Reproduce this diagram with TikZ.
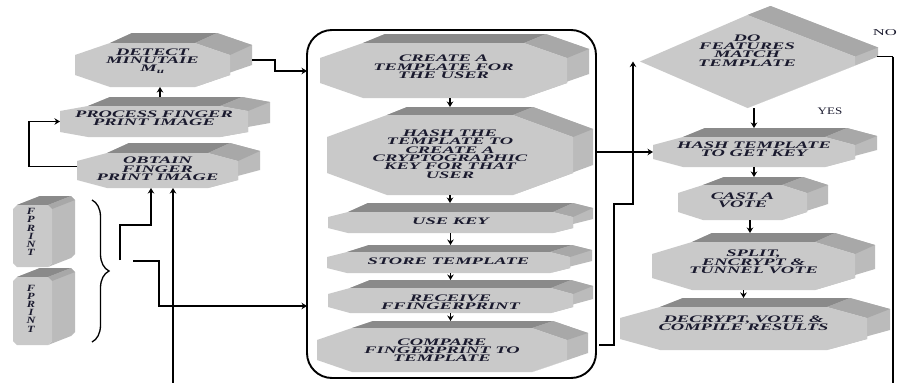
\documentclass[tikz,border=0pt]{standalone}
\usepackage{fontspec}
\newfontfamily\ff[FakeStretch=1.85]{Liberation Serif}
\newfontfamily\fpf[FakeStretch=1.3]{Liberation Serif}
\usetikzlibrary{calc,backgrounds,arrows.meta,decorations.pathreplacing}
\definecolor{frontc}{HTML}{C9C9C9}
\definecolor{topc}{HTML}{8A8A8A}
\definecolor{slantc}{HTML}{A8A8A8}
\definecolor{sidec}{HTML}{BBBBBB}
\definecolor{inkc}{HTML}{1A1A2E}
\tikzset{
  bx/.style 2 args={rectangle,inner sep=0pt,outer sep=0pt,minimum width=#1pt,minimum height=#2pt},
  tx/.style={align=center,inner sep=0pt,text=inkc,font=\ff\bfseries\itshape\fontsize{10}{8.3}\selectfont},
  lab/.style={inner sep=0pt,text=inkc,font=\fpf\fontsize{10}{10}\selectfont},
  arr/.style={line width=1.8pt,-{Stealth[length=5.5pt,width=6.5pt]}},
  ln/.style={line width=1.6pt}
}
% #1 node, #2 horizontal cut, #3 vertical cut, #4 dx, #5 dy (up)
\newcommand\prism[5]{%
  \begin{scope}[on background layer]
    \path let \p1=(#1.north west), \p2=(#1.south east) in
      (\x1+#2pt,\y1) coordinate (#1-1)
      (\x2-#2pt,\y1) coordinate (#1-2)
      (\x2,\y1-#3pt) coordinate (#1-3)
      (\x2,\y2+#3pt) coordinate (#1-4)
      (\x2-#2pt,\y2) coordinate (#1-5)
      (\x1+#2pt,\y2) coordinate (#1-6)
      (\x1,\y2+#3pt) coordinate (#1-7)
      (\x1,\y1-#3pt) coordinate (#1-8);
    \coordinate (#1-t) at ($(#1.north)+(0pt,#5pt)$);
    \fill[sidec] (#1-1) -- ($(#1-1)+(#4pt,#5pt)$) -- ($(#1-2)+(#4pt,#5pt)$)
      -- ($(#1-3)+(#4pt,#5pt)$) -- ($(#1-4)+(#4pt,#5pt)$) -- ($(#1-5)+(#4pt,#5pt)$)
      -- (#1-5) -- (#1-4) -- (#1-3) -- (#1-2) -- cycle;
    \fill[topc] (#1-1) -- (#1-2) -- ($(#1-2)+(#4pt,#5pt)$) -- ($(#1-1)+(#4pt,#5pt)$) -- cycle;
    \fill[slantc] (#1-2) -- (#1-3) -- ($(#1-3)+(#4pt,#5pt)$) -- ($(#1-2)+(#4pt,#5pt)$) -- cycle;
    \fill[frontc] (#1-1) -- (#1-2) -- (#1-3) -- (#1-4) -- (#1-5) -- (#1-6) -- (#1-7) -- (#1-8) -- cycle;
  \end{scope}}
\begin{document}
\begin{tikzpicture}[x=1pt,y=-1pt]
\useasboundingbox (0,0) rectangle (898,383);

% big rounded frame
\begin{scope}[on background layer]
\fill[white] (0,0) rectangle (898,383);
\node[draw,line width=1.9pt,rounded corners=25pt,bx={289}{348}] (big) at (451.5,204) {};
\end{scope}

% left column
\node[bx={155}{44}] (det) at (152.5,65) {};
\prism{det}{35}{12}{22}{10}
\node[tx] (detT) at (152.5,61) {DETECT\\MINUTAIE\\M\textsubscript{u}};
\node[bx={188}{31}] (proc) at (154,121.5) {};
\prism{proc}{28}{5}{22}{9}
\node[tx] (procT) at (154,118) {PROCESS FINGER\\PRINT IMAGE};
\node[bx={161}{35}] (obt) at (157.5,170.5) {};
\prism{obt}{30}{8}{22}{10}
\node[tx] (obtT) at (157.5,169) {OBTAIN\\FINGER\\PRINT IMAGE};

% fprint boxes
\tikzset{fptx/.style={align=center,inner sep=0pt,text=inkc,font=\fpf\bfseries\itshape\fontsize{9.5}{8.2}\selectfont}}
\node[bx={39}{62}] (fp1) at (32.5,236) {};
\prism{fp1}{4}{4}{23}{9}
\node[fptx] (fp1T) at (31,232) {F\\P\\R\\I\\N\\T};
\node[bx={39}{68}] (fp2) at (32.5,311) {};
\prism{fp2}{4}{4}{23}{9}
\node[fptx] (fp2T) at (31,308.5) {F\\P\\R\\I\\N\\T};

% brace
\coordinate (br1) at (92,200);
\coordinate (br2) at (92,342);
\draw[line width=1.3pt,decorate,decoration={brace,amplitude=17pt}] (br1) -- (br2);

% middle column
\node[bx={247}{55}] (create) at (443.5,70.5) {};
\prism{create}{43}{15}{22}{9}
\node[tx] (createT) at (443.5,67) {CREATE A\\TEMPLATE FOR\\THE USER};
\node[bx={246}{80}] (hash) at (450,155) {};
\prism{hash}{60}{22}{20}{8}
\node[tx] (hashT) at (450,154) {HASH THE\\TEMPLATE TO\\CREATE A\\CRYPTOGRAPHIC\\KEY FOR THAT\\USER};
\node[bx={245}{21}] (usekey) at (450.5,222.5) {};
\prism{usekey}{20}{5}{20}{9}
\node[tx] (usekeyT) at (450.5,221) {USE KEY};
\node[bx={243}{21}] (store) at (448.5,262.5) {};
\prism{store}{20}{5}{22}{7}
\node[tx] (storeT) at (448.5,261.5) {STORE TEMPLATE};
\node[bx={245}{25}] (receive) at (450.5,300.5) {};
\prism{receive}{22}{6}{20}{8}
\node[tx] (receiveT) at (450.5,302) {RECEIVE\\FFINGERPRINT};
\node[bx={250}{44}] (compare) at (442,350) {};
\prism{compare}{35}{12}{21}{7}
\node[tx] (compareT) at (442,350) {COMPARE\\FINGERPRINT TO\\TEMPLATE};

% right column: diamond
\node[bx={215}{93}] (dia) at (747.5,61.5) {};
\begin{scope}[on background layer]
  \coordinate (dL) at (dia.west);
  \coordinate (dT) at (dia.north);
  \coordinate (dR1) at ($(dia.east)+(0,-5)$);
  \coordinate (dR2) at ($(dia.east)+(0,4)$);
  \coordinate (dB) at (dia.south);
  \fill[sidec] (dT) -- ($(dT)+(23pt,9pt)$) -- ($(dR1)+(23pt,9pt)$) -- ($(dR2)+(23pt,9pt)$)
     -- ($(dB)+(23pt,9pt)$) -- (dB) -- (dR2) -- (dR1) -- cycle;
  \fill[slantc] (dT) -- (dR1) -- ($(dR1)+(23pt,9pt)$) -- ($(dT)+(23pt,9pt)$) -- cycle;
  \fill[frontc] (dL) -- (dT) -- (dR1) -- (dR2) -- (dB) -- cycle;
\end{scope}
\node[tx] (diaT) at (747,50.5) {DO\\FEATURES\\MATCH\\TEMPLATE};

\node[bx={202}{30}] (hashkey) at (754,152) {};
\prism{hashkey}{30}{8}{22}{9}
\node[tx] (hashkeyT) at (754,149) {HASH TEMPLATE\\TO GET KEY};
\node[bx={129}{35}] (cast) at (742.5,202.5) {};
\prism{cast}{25}{8}{21}{8}
\node[tx] (castT) at (742.5,200.5) {CAST A\\VOTE};
\node[bx={203}{48}] (split) at (753.5,266) {};
\prism{split}{40}{12}{20}{9}
\node[tx] (splitT) at (753.5,262) {SPLIT,\\ENCRYPT \&\\TUNNEL VOTE};
\node[bx={247}{43}] (decrypt) at (743.5,328.5) {};
\prism{decrypt}{40}{11}{23}{9}
\node[tx] (decryptT) at (743.5,323.5) {DECRYPT, VOTE \&\\COMPILE RESULTS};

% labels
\node[inner sep=0pt,text=inkc,font=\ff\fontsize{9}{9}\selectfont,anchor=east] (noL) at (897,33) {NO};
\node[lab] (yesL) at (830,111) {YES};

% connectors left
\draw[arr] ($(proc.north)+(6,-9)$) -- ($(det.south)+(7.5,0)$);
\draw[arr] ($(obt.west)+(0,-4)$) -- ++(-48,0) |- (proc.west);
\draw[arr] ($(det.east)+(22,-5)$) -- ++(23,0) -- ++(0,11) coordinate (t1) -- (t1 -| big.west);
\coordinate (b1) at (120,260);
\coordinate (b2) at (133,261);
\draw[arr] (b1) -- ++(0,-35) -| ($(obt.south)+(-6.5,0)$);
\draw[arr] (b2) -- ++(26,0) -- ++(0,45) coordinate (t2) -- (t2 -| big.west);
\coordinate (bot1) at (173,386);
\draw[arr,line width=2.1pt] (bot1) -- (bot1 |- obt.south);

% connectors middle
\draw[arr] (create.south -| hash.north) -- (hash-t);
\draw[arr] (hash.south) -- (hash.south |- usekey-t);
\draw[arr] (usekey.south) -- (usekey.south |- store-t);
\draw[arr] (store.south -| receive.north) -- (receive-t);
\draw[arr] (receive.south) -- (receive.south |- compare-t);

% connectors right
\draw[arr] (big.east |- hashkey.west) -- (hashkey.west);
\draw[arr] ($(big.east |- compare.east)+(3,-5)$) -- ++(15,0) -- ++(0,-141) -- ++(19,0) coordinate (u1) -- (u1 |- dia.west);
\draw[arr] (hashkey-t |- dia.south) -- (hashkey-t);
\draw[arr] (hashkey.south) -- (hashkey.south |- cast-t);
\draw[arr] ($(cast.south)+(7.5,0)$) -- ++(0,13);
\draw[arr] (decrypt-t |- split.south) -- (decrypt-t);
\coordinate (bot2) at (893,386);
\draw[ln] ($(dia.east)+(22,-5)$) -- ++(16,0) coordinate (v1);
\draw[line width=2.3pt] (v1) -- (v1 |- bot2);
\end{tikzpicture}
\end{document}
